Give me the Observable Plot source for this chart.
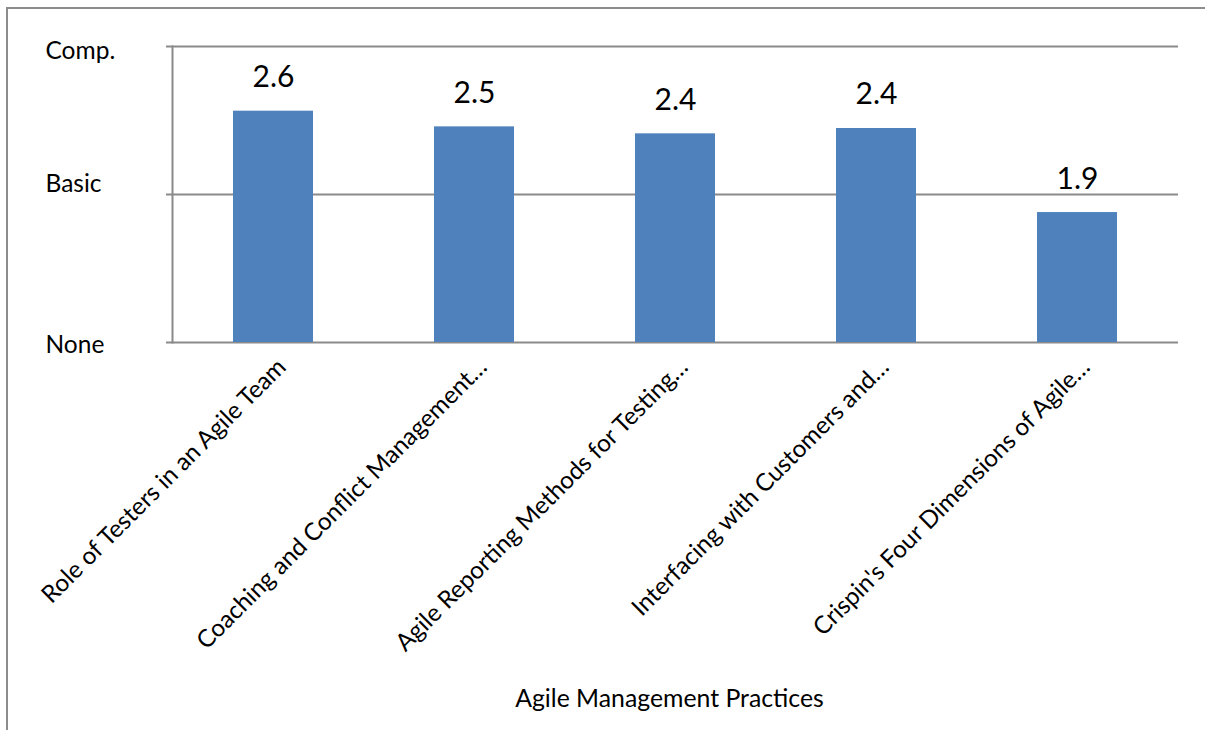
<!DOCTYPE html>
<html>
<head>
<meta charset="utf-8">
<script src="https://cdn.jsdelivr.net/npm/d3@7"></script>
<script src="https://cdn.jsdelivr.net/npm/@observablehq/plot@0.6"></script>
<style>
  html, body { margin: 0; padding: 0; background: #ffffff; }
  #wrap { position: relative; width: 1205px; height: 730px; overflow: hidden; background: #fff; }
  #border { position: absolute; left: 6px; top: 7px; width: 1400px; height: 900px;
            border-left: 2px solid #8c8c8c; border-top: 2px solid #8c8c8c; }
  #chart { position: absolute; left: 0; top: 0; }
</style>
</head>
<body>
<div id="wrap"><div id="border"></div><div id="chart"></div></div>
<script>
const categories = [
  "Role of Testers in an Agile Team",
  "Coaching and Conflict Management…",
  "Agile Reporting Methods for Testing…",
  "Interfacing with Customers and…",
  "Crispin's Four Dimensions of Agile…"
];
const values = [2.563, 2.457, 2.410, 2.446, 1.878];
const levelValues = [1, 2, 3];
const levelLabels = ["None", "Basic", "Comp."];
const xTitle = "Agile Management Practices";

const data = categories.map((c, i) => ({category: c, value: values[i]}));
const levels = levelValues.map((v, i) => ({v, label: levelLabels[i]}));
const font = "Lato, 'Open Sans', sans-serif";
const levelDy = [3, -10, 5];

const chart = Plot.plot({
  width: 1205,
  height: 730,
  marginLeft: 172,
  marginRight: 27,
  marginTop: 46,
  marginBottom: 388,
  style: {fontFamily: font, background: "transparent", overflow: "visible"},
  x: {type: "band", domain: categories, paddingInner: 0.6, paddingOuter: 0.3, axis: null},
  y: {domain: [1, 3], axis: null},
  marks: [
    Plot.ruleY(levelValues, {stroke: "#8a8a8a", strokeWidth: 2, insetLeft: -6}),
    Plot.frame({anchor: "left", stroke: "#8a8a8a", strokeWidth: 2}),
    Plot.barY(data, {x: "category", y1: 1, y2: "value", fill: "#4f81bd"}),
    Plot.text(data, {x: "category", y: "value", text: d => d3.format(".1f")(d.value),
      lineAnchor: "bottom", dy: -24, fontSize: 30, fill: "#000"}),
    ...levels.map((l, i) => Plot.text([l], {y: "v", text: "label", frameAnchor: "left", textAnchor: "start",
      dx: -127, dy: levelDy[i], fontSize: 24.5, fill: "#000"})),
    Plot.text(categories, {x: d => d, frameAnchor: "bottom", rotate: -45, textAnchor: "end",
      lineAnchor: "bottom", dx: 14, dy: 26, fontSize: 24.3, fill: "#000"}),
    Plot.text([xTitle], {frameAnchor: "bottom", text: d => d, textAnchor: "middle",
      lineAnchor: "bottom", dx: -6, dy: 364, fontSize: 24.8, fill: "#000"})
  ]
});
document.getElementById("chart").appendChild(chart);
</script>
</body>
</html>
